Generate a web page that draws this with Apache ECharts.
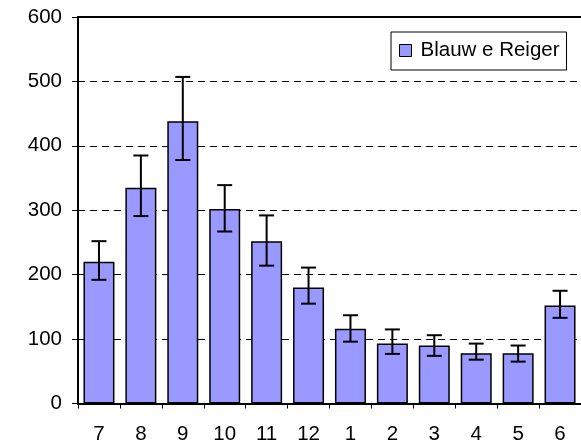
<!DOCTYPE html>
<html>
<head>
<meta charset="utf-8">
<script src="https://cdn.jsdelivr.net/npm/echarts@6/dist/echarts.min.js"></script>
<style>
html,body{margin:0;padding:0;background:#fff;}
#chart{width:581px;height:447px;}
</style>
</head>
<body>
<div id="chart"></div>
<script>
var months = ['7','8','9','10','11','12','1','2','3','4','5','6'];
var values = [220, 335, 438, 302, 252, 180, 116, 93, 90, 78, 78, 152];
var errLow = [192, 291, 378, 267, 214, 155, 96, 77, 74, 68, 65, 133];
var errHigh = [252, 385, 507, 339, 292, 211, 137, 115, 106, 93, 90, 175];
var seriesName = 'Blauw e Reiger';

var errData = months.map(function (m, i) { return [i, errLow[i], errHigh[i]]; });

var chart = echarts.init(document.getElementById('chart'), null, {renderer: 'canvas'});
var font = 'Liberation Sans, Arial, sans-serif';
chart.setOption({
  animation: false,
  backgroundColor: '#fff',
  grid: {left: 78, right: 0, top: 17, bottom: 43.5, show: false},
  legend: {
    left: 391, top: 32,
    padding: [8, 7, 9, 8],
    borderColor: '#000', borderWidth: 1, backgroundColor: '#fff',
    borderRadius: 0,
    icon: 'rect', itemWidth: 12, itemHeight: 12,
    itemStyle: {borderColor: '#000', borderWidth: 1},
    textStyle: {fontFamily: font, fontSize: 20.5, color: '#000', padding: [0, 0, 0, 4]},
    data: [seriesName]
  },
  xAxis: [{
    type: 'category', data: months,
    axisLine: {lineStyle: {color: '#000', width: 2}},
    axisTick: {show: true, interval: 0, length: 5, lineStyle: {color: '#000', width: 1}},
    axisLabel: {fontFamily: font, fontSize: 20.5, color: '#000', margin: 20, interval: 0}
  }, {
    type: 'category', data: months, position: 'top',
    axisLine: {show: true, lineStyle: {color: '#000', width: 2}},
    axisTick: {show: false}, axisLabel: {show: false}, splitLine: {show: false}
  }],
  yAxis: {
    type: 'value', min: 0, max: 600, interval: 100,
    axisLine: {show: true, lineStyle: {color: '#000', width: 2}},
    axisTick: {show: true, length: 6, lineStyle: {color: '#000', width: 1}},
    axisLabel: {fontFamily: font, fontSize: 20.5, color: '#000', margin: 16},
    splitLine: {show: true, lineStyle: {color: '#000', width: 1, type: [7, 5]}}
  },
  series: [
    {
      name: seriesName, type: 'bar', data: values, barWidth: 31,
      itemStyle: {color: '#9999FF', borderColor: '#000', borderWidth: 1.5}
    },
    {
      type: 'custom', data: errData, z: 10,
      encode: {x: 0, y: [1, 2]},
      renderItem: function (params, api) {
        var i = api.value(0);
        var lo = api.coord([i, api.value(1)]);
        var hi = api.coord([i, api.value(2)]);
        var hw = 7.5;
        var style = {stroke: '#000', lineWidth: 2, fill: null};
        return {
          type: 'group',
          children: [
            {type: 'line', shape: {x1: lo[0], y1: lo[1], x2: hi[0], y2: hi[1]}, style: style},
            {type: 'line', shape: {x1: lo[0] - hw, y1: lo[1], x2: lo[0] + hw, y2: lo[1]}, style: style},
            {type: 'line', shape: {x1: hi[0] - hw, y1: hi[1], x2: hi[0] + hw, y2: hi[1]}, style: style}
          ]
        };
      }
    }
  ]
});
</script>
</body>
</html>
